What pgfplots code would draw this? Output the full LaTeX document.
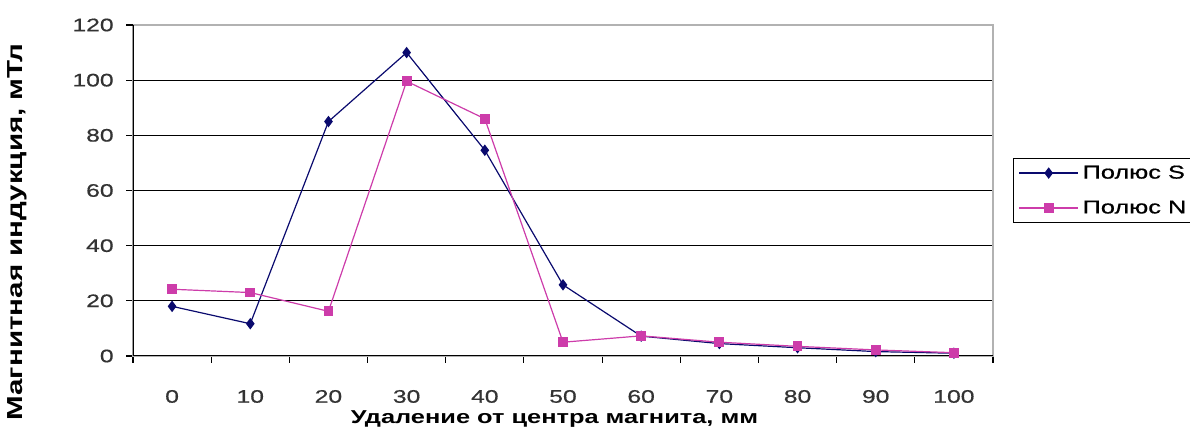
\documentclass[border=0pt]{standalone}
\usepackage{fontspec}
\setmainfont{Liberation Sans}[FakeStretch=1.36, UprightFeatures={FakeBold=0.6}]
\usepackage{pgfplots}
\pgfplotsset{compat=1.18}
\definecolor{sblue}{RGB}{10,10,110}
\definecolor{nmag}{RGB}{205,60,170}
\begin{document}
\begin{tikzpicture}
\begin{axis}[
  scale only axis, width=645pt, height=248.25pt,
  xmin=-0.5, xmax=10.5, ymin=0, ymax=120,
  xtick={0,1,2,3,4,5,6,7,8,9,10},
  xticklabels={0,10,20,30,40,50,60,70,80,90,100},
  major x tick style={draw=none},
  minor xtick={-0.5,0.5,1.5,2.5,3.5,4.5,5.5,6.5,7.5,8.5,9.5,10.5},
  ytick={0,20,40,60,80,100}, extra y ticks={120},
  extra y tick style={grid=none},
  ymajorgrids, major grid style={black, line width=0.8pt},
  tick align=outside, xtick pos=bottom, ytick pos=left,
  major tick length=5pt, minor tick length=5pt,
  every tick/.style={black, line width=0.8pt},
  axis line style={gray!60, line width=0.8pt},
  /pgf/number format/assume math mode=true,
  tick label style={font=\fontsize{13.6}{15}\selectfont, text=black!80},
  xticklabel style={yshift=-17pt},
  yticklabel style={xshift=-6pt},
  xlabel={Удаление от центра магнита, мм},
  xlabel style={font=\fontsize{14}{16}\selectfont\bfseries, at={(axis description cs:0.49,-0.19)}, anchor=center},
  ylabel={Магнитная индукция, мТл},
  ylabel style={font=\fontsize{16.3}{18}\selectfont\bfseries, at={(axis description cs:-0.134,0.375)}, anchor=center},
  legend style={at={(axis description cs:1,0.5)}, anchor=west, xshift=15pt, draw=black, line width=0.6pt, font=\fontsize{14}{16}\selectfont, inner xsep=4pt, inner ysep=2pt, nodes={inner sep=3pt}, row sep=9pt},
  legend cell align=left,
  legend image code/.code={\draw[mark repeat=2,mark phase=2] plot coordinates {(0pt,0pt)(22pt,0pt)(44pt,0pt)};},
]
\coordinate (sw) at (rel axis cs:0,0);
\addplot[sblue, line width=0.9pt, mark=diamond*, mark size=3.6pt, mark options={solid, fill=sblue}]
  coordinates {(0,18) (1,11.7) (2,85) (3,110) (4,74.6) (5,25.8) (6,7.2) (7,4.5) (8,3) (9,1.6) (10,1)};
\addlegendentry{Полюс S}
\addplot[nmag, line width=0.9pt, mark=square*, mark size=3.2pt, mark options={solid, fill=nmag}]
  coordinates {(0,24.2) (1,23) (2,16.2) (3,99.6) (4,86) (5,5) (6,7.3) (7,5) (8,3.5) (9,2.2) (10,1.2)};
\addlegendentry{Полюс N}
\draw[black, line width=0.8pt] (rel axis cs:0,1) -- (rel axis cs:0,0) -- (rel axis cs:1,0);
\end{axis}
\pgfresetboundingbox
\path[use as bounding box] ([shift={(-99.75pt,-59.25pt)}]sw) rectangle ([shift={(792.75pt,267pt)}]sw);
\end{tikzpicture}
\end{document}
